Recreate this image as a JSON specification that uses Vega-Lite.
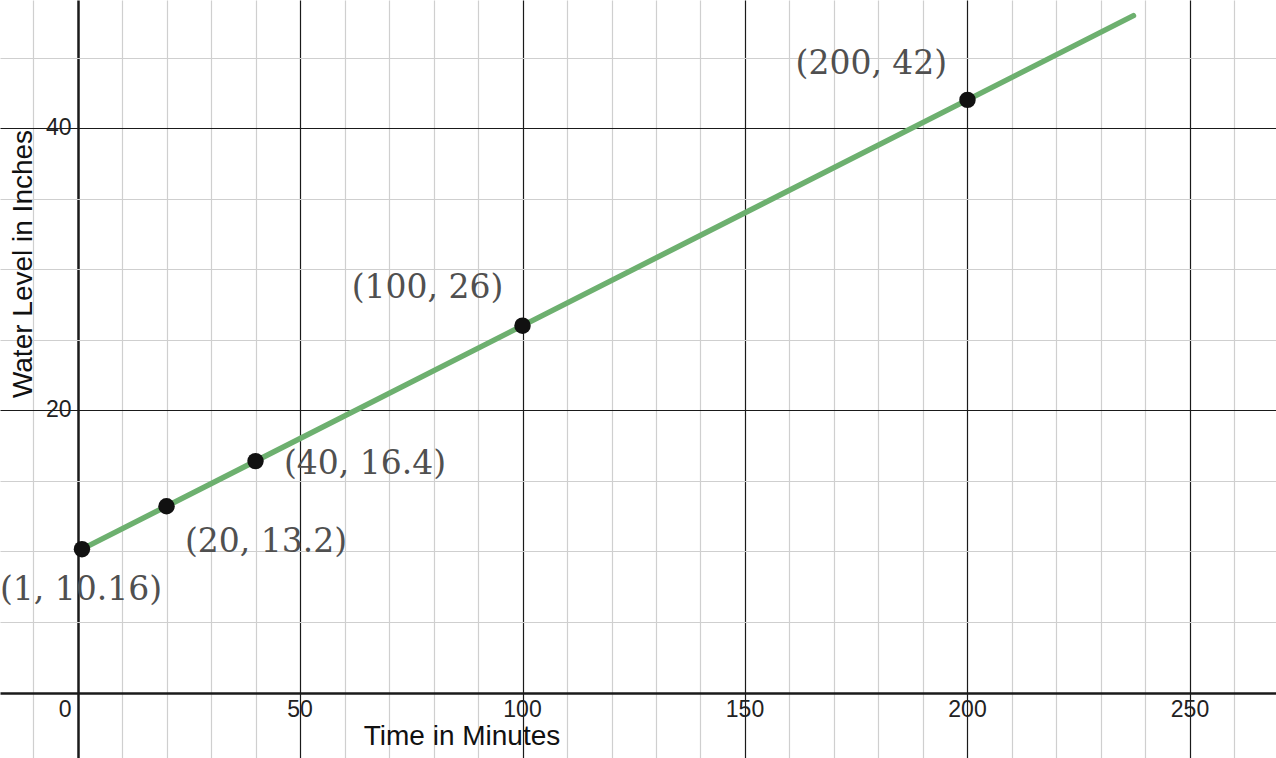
{
  "$schema": "https://vega.github.io/schema/vega-lite/v6.json",
  "width": 1276,
  "height": 758,
  "padding": 0,
  "autosize": {"type": "none"},
  "background": "white",
  "config": {"view": {"stroke": null}},
  "datasets": {
    "line": [{"t": 1, "w": 10.16}, {"t": 237.3, "w": 47.97}],
    "points": [
      {"t": 1, "w": 10.16, "label": "(1, 10.16)", "lx": 0.79, "ly": 7.26},
      {"t": 20, "w": 13.2, "label": "(20, 13.2)", "lx": 42.36, "ly": 10.7},
      {"t": 40, "w": 16.4, "label": "(40, 16.4)", "lx": 64.61, "ly": 16.23},
      {"t": 100, "w": 26, "label": "(100, 26)", "lx": 78.65, "ly": 28.7},
      {"t": 200, "w": 42, "label": "(200, 42)", "lx": 178.4, "ly": 44.54}
    ],
    "xticks": [{"v": 50}, {"v": 100}, {"v": 150}, {"v": 200}, {"v": 250}],
    "xzero": [{"v": 0}],
    "yticks": [{"v": 20}, {"v": 40}]
  },
  "layer": [
    {
      "data": {"name": "line"},
      "mark": {"type": "line", "color": "#6db06f", "strokeWidth": 5.5, "strokeCap": "round"},
      "encoding": {
        "x": {
          "field": "t", "type": "quantitative",
          "scale": {"domain": [-17.42, 269.33], "nice": false, "zero": false},
          "axis": {
            "values": [-10, 0, 10, 20, 30, 40, 50, 60, 70, 80, 90, 100, 110, 120, 130, 140, 150, 160, 170, 180, 190, 200, 210, 220, 230, 240, 250, 260],
            "grid": true, "labels": false, "ticks": false, "domain": false, "title": null,
            "gridColor": {"condition": {"test": "datum.value % 50 === 0", "value": "#1a1a1a"}, "value": "#cfcfcf"},
            "gridWidth": {"condition": {"test": "datum.value === 0", "value": 2.5}, "value": 1.2},
            "gridOpacity": 1
          }
        },
        "y": {
          "field": "w", "type": "quantitative",
          "scale": {"domain": [-4.64, 49.08], "nice": false, "zero": false},
          "axis": {
            "values": [0, 5, 10, 15, 20, 25, 30, 35, 40, 45],
            "grid": true, "labels": false, "ticks": false, "domain": false, "title": null,
            "gridColor": {"condition": {"test": "datum.value % 20 === 0", "value": "#1a1a1a"}, "value": "#cfcfcf"},
            "gridWidth": {"condition": {"test": "datum.value === 0", "value": 2.5}, "value": 1.2},
            "gridOpacity": 1
          }
        }
      }
    },
    {
      "data": {"name": "points"},
      "mark": {"type": "point", "filled": true, "color": "#111111", "opacity": 1, "size": 270},
      "encoding": {
        "x": {"field": "t", "type": "quantitative"},
        "y": {"field": "w", "type": "quantitative"}
      }
    },
    {
      "data": {"name": "points"},
      "mark": {"type": "text", "font": "DejaVu Serif", "fontSize": 33, "color": "#505050", "align": "center", "baseline": "middle"},
      "encoding": {
        "x": {"field": "lx", "type": "quantitative"},
        "y": {"field": "ly", "type": "quantitative"},
        "text": {"field": "label"}
      }
    },
    {
      "data": {"name": "xticks"},
      "mark": {"type": "text", "font": "Liberation Sans", "fontSize": 23, "color": "#222222", "align": "center", "baseline": "middle", "dy": 17},
      "encoding": {
        "x": {"field": "v", "type": "quantitative"},
        "y": {"datum": 0},
        "text": {"field": "v", "type": "quantitative"}
      }
    },
    {
      "data": {"name": "xzero"},
      "mark": {"type": "text", "font": "Liberation Sans", "fontSize": 23, "color": "#222222", "align": "right", "baseline": "middle", "dy": 17, "dx": -6},
      "encoding": {
        "x": {"field": "v", "type": "quantitative"},
        "y": {"datum": 0},
        "text": {"field": "v", "type": "quantitative"}
      }
    },
    {
      "data": {"name": "yticks"},
      "mark": {"type": "text", "font": "Liberation Sans", "fontSize": 23, "color": "#222222", "align": "right", "baseline": "middle", "dx": -6},
      "encoding": {
        "x": {"datum": 0},
        "y": {"field": "v", "type": "quantitative"},
        "text": {"field": "v", "type": "quantitative"}
      }
    },
    {
      "data": {"values": [{"title": "Time in Minutes"}]},
      "mark": {"type": "text", "font": "Liberation Sans", "fontSize": 28, "color": "#111111", "align": "center", "baseline": "middle"},
      "encoding": {
        "x": {"datum": 86.4},
        "y": {"datum": -3.15},
        "text": {"field": "title"}
      }
    },
    {
      "data": {"values": [{"title": "Water Level in Inches"}]},
      "mark": {"type": "text", "font": "Liberation Sans", "fontSize": 28, "color": "#111111", "align": "center", "baseline": "middle", "angle": 270},
      "encoding": {
        "x": {"datum": -12.0},
        "y": {"datum": 30.37},
        "text": {"field": "title"}
      }
    }
  ]
}
